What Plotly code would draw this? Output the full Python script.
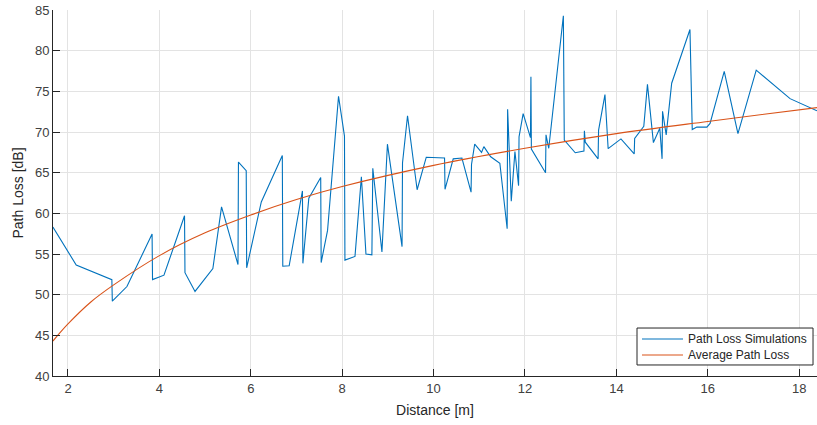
import plotly.graph_objects as go

# Simulated path loss samples: distance [m] and loss [dB], in simulation order
distance_m = [
    1.67, 2.18, 2.96, 2.97, 3.29, 3.84, 3.85, 4.10, 4.55, 4.56,
    4.78, 5.17, 5.36, 5.72, 5.73, 5.90, 5.91, 6.23, 6.69, 6.70,
    6.84, 7.13, 7.14, 7.27, 7.53, 7.54, 7.68, 7.92, 8.05, 8.06,
    8.28, 8.42, 8.52, 8.65, 8.67, 8.87, 8.99, 9.31, 9.32, 9.43,
    9.64, 9.84, 10.24, 10.25, 10.43, 10.62, 10.82, 10.83, 10.90, 11.05,
    11.10, 11.25, 11.45, 11.61, 11.62, 11.70, 11.78, 11.86, 11.87, 11.96,
    12.12, 12.13, 12.14, 12.45, 12.46, 12.52, 12.84, 12.86, 13.10, 13.29,
    13.30, 13.32, 13.60, 13.61, 13.75, 13.82, 14.10, 14.39, 14.40, 14.60,
    14.68, 14.81, 14.95, 15.00, 15.01, 15.09, 15.21, 15.61, 15.66, 15.76,
    15.98, 16.05, 16.36, 16.66, 17.06, 17.80, 18.39,
]
path_loss_db = [
    58.3, 53.65, 51.85, 49.2, 51.0, 57.45, 51.85, 52.4, 59.7, 52.7,
    50.4, 53.2, 60.8, 53.7, 66.3, 65.25, 53.3, 61.4, 67.1, 53.5,
    53.55, 62.75, 53.85, 61.85, 64.4, 53.95, 57.9, 74.4, 69.5, 54.25,
    54.7, 64.5, 55.0, 54.9, 65.55, 55.25, 68.5, 55.9, 66.2, 72.0,
    62.9, 66.9, 66.8, 62.95, 66.7, 66.8, 62.6, 66.0, 68.5, 67.5,
    68.2, 66.95, 66.15, 58.1, 72.8, 61.5, 67.6, 63.4, 69.4, 72.25,
    69.3, 76.8, 67.9, 65.0, 69.65, 68.0, 84.3, 69.0, 67.45, 67.65,
    70.15, 68.75, 66.7, 70.2, 74.6, 67.95, 69.15, 67.3, 69.2, 70.7,
    75.85, 68.7, 70.45, 66.7, 72.55, 69.65, 76.0, 82.6, 70.3, 70.6,
    70.6, 71.05, 77.45, 69.8, 77.6, 74.1, 72.6,
]

# Average (log-distance) path loss curve samples
avg_distance_m = [1.67, 2.0, 2.5, 3.0, 4.0, 5.0, 6.0, 7.0, 8.0, 10.0, 12.0, 14.0, 16.0, 18.39]
avg_path_loss_db = [44.3, 46.4, 49.1, 51.2, 54.8, 57.6, 59.8, 61.7, 63.3, 65.9, 68.0, 69.8, 71.3, 73.0]

x_ticks = [2, 4, 6, 8, 10, 12, 14, 16, 18]
y_ticks = [40, 45, 50, 55, 60, 65, 70, 75, 80, 85]

series_names = ["Path Loss Simulations", "Average Path Loss"]

BLUE = "#0072BD"
ORANGE = "#D95319"
AXIS = "#262626"
FONT = "Liberation Sans, Arial, Helvetica, sans-serif"

fig = go.Figure()
fig.add_trace(go.Scatter(
    x=distance_m, y=path_loss_db, mode="lines",
    name=series_names[0], showlegend=False,
    line=dict(color=BLUE, width=1.1),
))
fig.add_trace(go.Scatter(
    x=avg_distance_m, y=avg_path_loss_db, mode="lines",
    name=series_names[1], showlegend=False,
    line=dict(color=ORANGE, width=1.1, shape="spline", smoothing=1.0),
))

axis_common = dict(
    showline=True, linecolor=AXIS, linewidth=1,
    ticks="inside", ticklen=7, tickwidth=1, tickcolor=AXIS,
    showgrid=True, gridcolor="#e3e3e3", gridwidth=1,
    zeroline=False, mirror=False,
    tickfont=dict(family=FONT, size=13, color="#404040"),
)

# Compact boxed legend in the lower-right corner (paper coordinates)
legend_box = dict(x0=0.7644, x1=0.9948, y0=0.0301, y1=0.1311)
legend_rows_y = [0.1011, 0.0574]
legend_line_x = (0.7709, 0.8246)
legend_text_x = 0.8285

shapes = [dict(
    type="rect", xref="paper", yref="paper", layer="above",
    fillcolor="white", line=dict(color=AXIS, width=1), **legend_box,
)]
annotations = []
for name, color, ry in zip(series_names, [BLUE, ORANGE], legend_rows_y):
    shapes.append(dict(
        type="line", xref="paper", yref="paper", layer="above",
        x0=legend_line_x[0], x1=legend_line_x[1], y0=ry, y1=ry,
        line=dict(color=color, width=1.1),
    ))
    annotations.append(dict(
        xref="paper", yref="paper", x=legend_text_x, y=ry,
        xanchor="left", yanchor="middle", showarrow=False, text=name,
        font=dict(family=FONT, size=12, color="#262626"),
    ))

fig.update_layout(
    width=817, height=425,
    margin=dict(l=53, r=0, t=10, b=49),
    paper_bgcolor="white", plot_bgcolor="white",
    font=dict(family=FONT, color=AXIS),
    xaxis=dict(
        range=[1.672, 18.39], tickvals=x_ticks,
        title=dict(text="Distance [m]", font=dict(family=FONT, size=14, color="#262626"), standoff=10),
        **axis_common,
    ),
    yaxis=dict(
        range=[40, 85], tickvals=y_ticks,
        title=dict(text="Path Loss [dB]", font=dict(family=FONT, size=14, color="#262626"), standoff=8),
        **axis_common,
    ),
    shapes=shapes,
    annotations=annotations,
    showlegend=False,
)

fig.write_html("out.html")
